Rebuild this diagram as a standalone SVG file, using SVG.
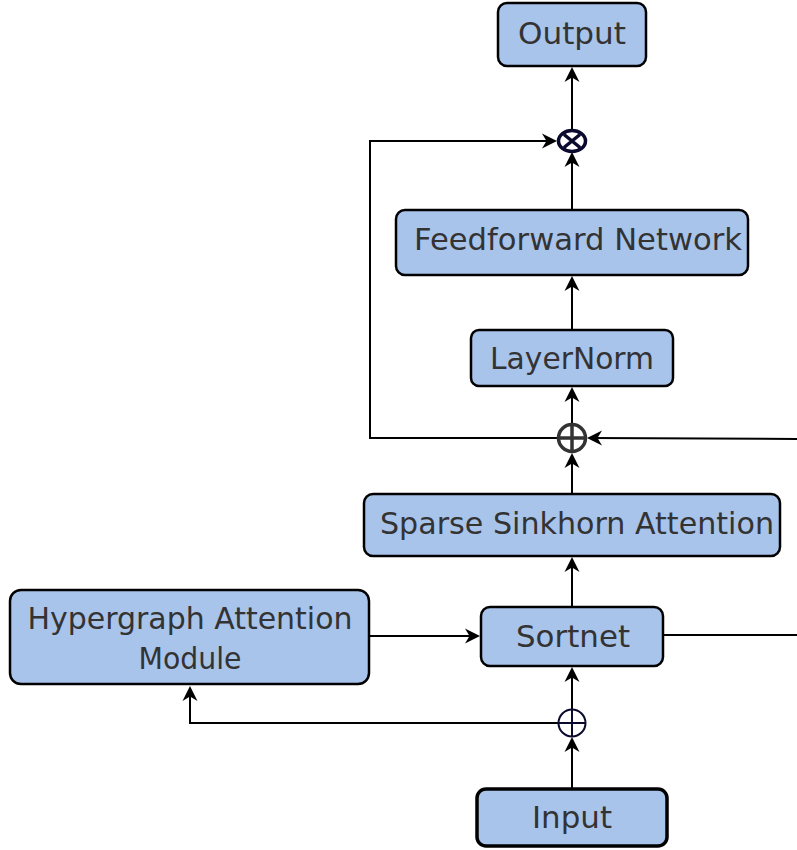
<svg xmlns="http://www.w3.org/2000/svg" xmlns:xlink="http://www.w3.org/1999/xlink" width="797" height="850" viewBox="0 0 797 850">
  <style>
    .box { fill: #A9C4EB; stroke: #000; stroke-width: 2.5; }
    .box.thick { stroke-width: 3.5; }
    .lbl { font-family: "DejaVu Sans", "Liberation Sans", sans-serif; font-size: 31px; fill: #333; text-anchor: middle; }
    .wire { fill: none; stroke: #000; stroke-width: 2; }
  </style>
  <defs>
    <!-- arrowhead pointing right, tip at the origin -->
    <path id="ah" d="M0,0 L-15,-7.5 L-10.5,0 L-15,7.5 Z" fill="#000"/>
  </defs>

  <rect width="797" height="850" fill="#fff"/>

  <!-- connectors -->
  <g id="connectors">
    <line class="wire" x1="572" y1="789" x2="572" y2="741"/>
    <line class="wire" x1="572" y1="710" x2="572" y2="671"/>
    <polyline class="wire" points="559,723 190,723 190,690"/>
    <line class="wire" x1="369" y1="636" x2="476" y2="636"/>
    <line class="wire" x1="663" y1="635" x2="797" y2="635"/>
    <line class="wire" x1="572" y1="607" x2="572" y2="561"/>
    <line class="wire" x1="572" y1="494" x2="572" y2="457"/>
    <line class="wire" x1="797" y1="439" x2="591" y2="438"/>
    <polyline class="wire" points="557,438 370,438 370,141 553,141"/>
    <line class="wire" x1="572" y1="424" x2="572" y2="391"/>
    <line class="wire" x1="572" y1="330" x2="572" y2="280"/>
    <line class="wire" x1="572" y1="210" x2="572" y2="156"/>
    <line class="wire" x1="572" y1="130" x2="572" y2="71"/>

    <use xlink:href="#ah" href="#ah" transform="translate(572,737) rotate(-90)"/>
    <use xlink:href="#ah" href="#ah" transform="translate(572,667) rotate(-90)"/>
    <use xlink:href="#ah" href="#ah" transform="translate(190,686) rotate(-90)"/>
    <use xlink:href="#ah" href="#ah" transform="translate(480,636)"/>
    <use xlink:href="#ah" href="#ah" transform="translate(572,557) rotate(-90)"/>
    <use xlink:href="#ah" href="#ah" transform="translate(572,453) rotate(-90)"/>
    <use xlink:href="#ah" href="#ah" transform="translate(587,438) rotate(180)"/>
    <use xlink:href="#ah" href="#ah" transform="translate(557,141)"/>
    <use xlink:href="#ah" href="#ah" transform="translate(572,387) rotate(-90)"/>
    <use xlink:href="#ah" href="#ah" transform="translate(572,276) rotate(-90)"/>
    <use xlink:href="#ah" href="#ah" transform="translate(572,152) rotate(-90)"/>
    <use xlink:href="#ah" href="#ah" transform="translate(572,67) rotate(-90)"/>
  </g>

  <g id="output">
    <rect class="box" x="498" y="3" width="148" height="63" rx="9"/>
    <text class="lbl" x="572" y="44" textLength="108" lengthAdjust="spacingAndGlyphs">Output</text>
  </g>

  <g id="multiply">
    <ellipse cx="572" cy="141" rx="13.5" ry="10.5" fill="#fff" stroke="#0a0a2e" stroke-width="3.5"/>
    <path d="M564,134.5 L580,147.5 M580,134.5 L564,147.5" stroke="#0a0a2e" stroke-width="3.5"/>
  </g>

  <g id="feedforward">
    <rect class="box" x="396" y="210" width="352" height="65" rx="9"/>
    <text class="lbl" x="578" y="250" textLength="328" lengthAdjust="spacingAndGlyphs">Feedforward Network</text>
  </g>

  <g id="layernorm">
    <rect class="box" x="471" y="330" width="202" height="56" rx="8"/>
    <text class="lbl" x="572" y="369" textLength="164" lengthAdjust="spacingAndGlyphs">LayerNorm</text>
  </g>

  <g id="add-upper">
    <circle cx="572" cy="438" r="13.5" fill="none" stroke="#333" stroke-width="3.5"/>
    <path d="M558.5,438 H585.5 M572,424.5 V451.5" stroke="#333" stroke-width="3.5"/>
  </g>

  <g id="sparse-attention">
    <rect class="box" x="364" y="494" width="416" height="62" rx="9"/>
    <text class="lbl" x="577" y="534" textLength="394" lengthAdjust="spacingAndGlyphs">Sparse Sinkhorn Attention</text>
  </g>

  <g id="hypergraph">
    <rect class="box" x="10" y="590" width="359" height="94" rx="11"/>
    <text class="lbl" x="190" y="629" textLength="325" lengthAdjust="spacingAndGlyphs">Hypergraph Attention</text>
    <text class="lbl" x="190" y="669" textLength="103" lengthAdjust="spacingAndGlyphs">Module</text>
  </g>

  <g id="sortnet">
    <rect class="box" x="481" y="607" width="182" height="59" rx="9"/>
    <text class="lbl" x="573" y="647" textLength="114" lengthAdjust="spacingAndGlyphs">Sortnet</text>
  </g>

  <g id="add-lower">
    <circle cx="572" cy="723" r="13.5" fill="#fff" stroke="#0a0a2e" stroke-width="2"/>
    <path d="M558.5,723 H585.5 M572,709.5 V736.5" stroke="#0a0a2e" stroke-width="2"/>
  </g>

  <g id="input">
    <rect class="box thick" x="477" y="789" width="190" height="57" rx="9"/>
    <text class="lbl" x="572" y="828" textLength="80" lengthAdjust="spacingAndGlyphs">Input</text>
  </g>
</svg>
